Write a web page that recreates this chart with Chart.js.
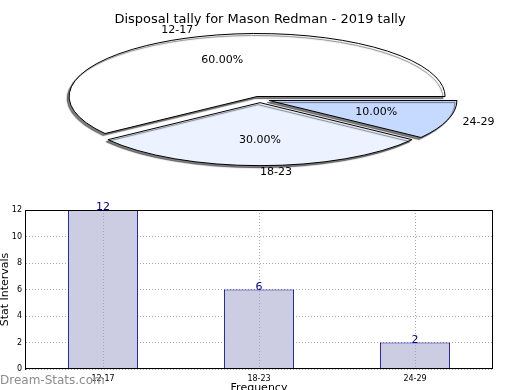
<!DOCTYPE html>
<html>
<head>
<meta charset="utf-8">
<script src="https://cdn.jsdelivr.net/npm/chart.js"></script>
<style>
  html, body { margin: 0; padding: 0; background: #fff; overflow: hidden; }
  body { width: 520px; height: 390px; position: relative; font-family: "DejaVu Sans", sans-serif; }
  #pieChart { position: absolute; left: 0; top: 0; }
  #barChart { position: absolute; left: 0; top: 195px; }
  #mark { position: absolute; left: 0; top: 373px; font-size: 12px; color: #8c8c8c; }
</style>
</head>
<body>
<canvas id="pieChart" width="520" height="195"></canvas>
<canvas id="barChart" width="520" height="200"></canvas>
<div id="mark">Dream-Stats.com</div>

<script>
// данные
const categories = ['12-17', '18-23', '24-29'];
const counts = [12, 6, 2];
const yTicks = [0, 2, 4, 6, 8, 10, 12];

const titleText = 'Disposal tally for Mason Redman - 2019 tally';
const pieColors = ['#ffffff', '#ecf2ff', '#c6d9ff'];
const FONT = '"DejaVu Sans", sans-serif';

// пирог идёт по часовой стрелке от 3 часов, поэтому порядок обратный
const pieLabels = categories.slice().reverse();
const pieValues = counts.slice().reverse();
const pieFill = pieColors.slice().reverse();
const total = counts.reduce((a, b) => a + b, 0);

// эллипс
const CX = 260, CY = 99.5, RX = 188, RY = 63, EXPLODE = 0.05;

function arcGeom(arc) {
  const p = arc.getProps(['x', 'y', 'startAngle', 'endAngle', 'outerRadius'], true);
  const mid = (p.startAngle + p.endAngle) / 2;
  const ox = CX + Math.cos(mid) * EXPLODE * RX;
  const oy = CY + Math.sin(mid) * EXPLODE * RY;
  return { p, mid, ox, oy };
}

const ellipsePie = {
  id: 'ellipsePie',
  beforeDatasetDraw(chart, args) {
    const ctx = chart.ctx;
    const origStroke = ctx.stroke;
    // линия одной толщины несмотря на масштаб
    ctx.stroke = function () {
      this.save();
      this.setTransform(1, 0, 0, 1, 0, 0);
      origStroke.apply(this, arguments);
      this.restore();
    };
    args.meta.data.forEach(arc => {
      const g = arcGeom(arc);
      ctx.save();
      ctx.shadowColor = 'rgba(0,0,0,0.5)';
      ctx.shadowOffsetX = -2;
      ctx.shadowOffsetY = 2;
      ctx.shadowBlur = 1;
      ctx.translate(g.ox, g.oy);
      ctx.scale(RX / g.p.outerRadius, RY / g.p.outerRadius);
      ctx.translate(-g.p.x, -g.p.y);
      arc.draw(ctx);
      ctx.restore();
    });
    delete ctx.stroke;
    return false;
  },
  afterDraw(chart) {
    const ctx = chart.ctx;
    const meta = chart.getDatasetMeta(0);
    ctx.save();
    ctx.font = '11px ' + FONT;
    ctx.fillStyle = '#000';
    ctx.textBaseline = 'middle';
    meta.data.forEach((arc, i) => {
      const g = arcGeom(arc);
      const c = Math.cos(g.mid), s = Math.sin(g.mid);
      ctx.textAlign = 'center';
      const pct = (pieValues[i] / total * 100).toFixed(2) + '%';
      ctx.fillText(pct, g.ox + c * 0.6 * RX, g.oy + s * 0.6 * RY);
      ctx.textAlign = c > -1e-6 ? 'left' : 'right';
      ctx.fillText(pieLabels[i], g.ox + c * 1.1 * RX - (c > 0.5 ? 3 : 0), g.oy + s * 1.1 * RY);
    });
    ctx.restore();
  }
};

new Chart(document.getElementById('pieChart').getContext('2d'), {
  type: 'pie',
  data: {
    labels: pieLabels,
    datasets: [{
      data: pieValues,
      backgroundColor: pieFill,
      borderColor: '#000',
      borderWidth: 1
    }]
  },
  options: {
    responsive: false,
    animation: false,
    rotation: 90,
    layout: { padding: 10 },
    plugins: {
      legend: { display: false },
      tooltip: { enabled: false },
      title: {
        display: true,
        text: titleText,
        color: '#000',
        font: { family: FONT, size: 13, weight: 'normal' },
        padding: { top: 2, bottom: 4 }
      }
    }
  },
  plugins: [ellipsePie]
});

// рамка и числа над столбцами
const barExtras = {
  id: 'barExtras',
  afterDraw(chart) {
    const ctx = chart.ctx;
    const a = chart.chartArea;
    // убрать лишнюю полоску у верхнего края холста
    ctx.clearRect(0, 0, chart.width, 3);
    ctx.save();
    ctx.strokeStyle = '#000';
    ctx.lineWidth = 1;
    ctx.strokeRect(Math.round(a.left) + 0.5, Math.round(a.top) + 0.5,
      Math.round(a.right - a.left) - 1, Math.round(a.bottom - a.top) - 1);
    ctx.font = '11px ' + FONT;
    ctx.fillStyle = '#00008b';
    ctx.textAlign = 'center';
    ctx.textBaseline = 'alphabetic';
    chart.getDatasetMeta(0).data.forEach((bar, i) => {
      ctx.fillText(String(counts[i]), bar.x, bar.y);
    });
    ctx.restore();
  }
};

new Chart(document.getElementById('barChart').getContext('2d'), {
  type: 'bar',
  data: {
    labels: categories,
    datasets: [{
      data: counts,
      backgroundColor: '#cccce2',
      borderColor: '#00008b',
      borderWidth: 1,
      barPercentage: 0.45,
      categoryPercentage: 1
    }]
  },
  options: {
    responsive: false,
    animation: false,
    layout: { padding: { top: 15, right: 27, left: 0, bottom: 0 } },
    plugins: { legend: { display: false }, tooltip: { enabled: false } },
    scales: {
      x: {
        afterFit(s) { s.height = 26; },
        grid: { offset: false, color: '#a8a8a8', drawTicks: false, z: 1 },
        border: { color: '#000', dash: [1, 2] },
        ticks: { color: '#000', padding: 5, font: { family: FONT, size: 8 } },
        title: {
          display: true, text: 'Frequency', color: '#000',
          font: { family: FONT, size: 11 }, padding: 0
        }
      },
      y: {
        min: yTicks[0],
        max: yTicks[yTicks.length - 1],
        afterFit(s) { s.width = 25; },
        grid: { color: '#a8a8a8', drawTicks: false },
        border: { color: '#000', dash: [1, 2] },
        ticks: {
          stepSize: yTicks[1] - yTicks[0],
          color: '#000', padding: 3, font: { family: FONT, size: 8 }
        },
        title: {
          display: true, text: 'Stat Intervals', color: '#000',
          font: { family: FONT, size: 11, lineHeight: 1 }, padding: 0
        }
      }
    }
  },
  plugins: [barExtras]
});
</script>
</body>
</html>
